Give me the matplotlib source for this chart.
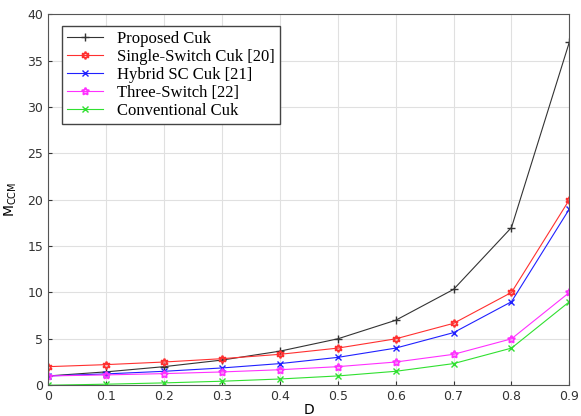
import matplotlib.pyplot as plt
import numpy as np

# duty ratio and voltage gain values
D = [0, 0.1, 0.2, 0.3, 0.4, 0.5, 0.6, 0.7, 0.8, 0.9]
proposed = [1.0, 1.44, 2.0, 2.71, 3.67, 5.0, 7.0, 10.33, 17.0, 37.0]
single_switch = [2.0, 2.22, 2.5, 2.86, 3.33, 4.0, 5.0, 6.67, 10.0, 20.0]
hybrid_sc = [1.0, 1.22, 1.5, 1.86, 2.33, 3.0, 4.0, 5.67, 9.0, 19.0]
three_switch = [1.0, 1.11, 1.25, 1.43, 1.67, 2.0, 2.5, 3.33, 5.0, 10.0]
conventional = [0.0, 0.11, 0.25, 0.43, 0.67, 1.0, 1.5, 2.33, 4.0, 9.0]

labels = ['Proposed Cuk', 'Single-Switch Cuk [20]', 'Hybrid SC Cuk [21]',
          'Three-Switch [22]', 'Conventional Cuk']

fig = plt.figure(figsize=(5.81, 4.16), dpi=100)
ax = fig.add_axes([0.083, 0.074, 0.897, 0.892])

ax.plot(D, proposed, color='#333333', marker='+', ms=6, lw=0.8, label=labels[0])
ax.plot(D, single_switch, color='#ff3030', marker=(6, 1, 0), ms=5.5, mfc='none', mew=1.3, lw=0.8, label=labels[1])
ax.plot(D, hybrid_sc, color='#2020ff', marker='x', ms=5, lw=0.8, label=labels[2])
ax.plot(D, three_switch, color='#ff30ff', marker=(5, 1, 0), ms=5.5, mfc='none', mew=1.3, lw=0.8, label=labels[3])
ax.plot(D, conventional, color='#30e030', marker='x', ms=5, lw=0.8, label=labels[4])

ax.set_xlim(0, 0.9)
ax.set_ylim(0, 40)
ax.set_xticks(np.arange(0, 0.91, 0.1))
ax.set_xticklabels(['0', '0.1', '0.2', '0.3', '0.4', '0.5', '0.6', '0.7', '0.8', '0.9'])
ax.set_yticks(range(0, 41, 5))
ax.tick_params(direction='in', labelsize=9, colors='#333333', length=3)
for s in ax.spines.values():
    s.set_color('#555555')
    s.set_linewidth(0.8)
ax.grid(True, color='#e0e0e0', lw=0.8)
ax.set_axisbelow(True)

ax.set_xlabel('D', fontsize=10, labelpad=0)
ax.set_ylabel('M$_{\\mathregular{CCM}}$', fontsize=10, labelpad=6)

ax.legend(loc='upper left', bbox_to_anchor=(0.01, 0.99), fancybox=False, edgecolor='#444444',
          framealpha=1, handlelength=2.2, labelspacing=0.12, borderpad=0.3,
          prop={'family': 'Liberation Serif', 'size': 12})

fig.savefig('out.png', dpi=100)
